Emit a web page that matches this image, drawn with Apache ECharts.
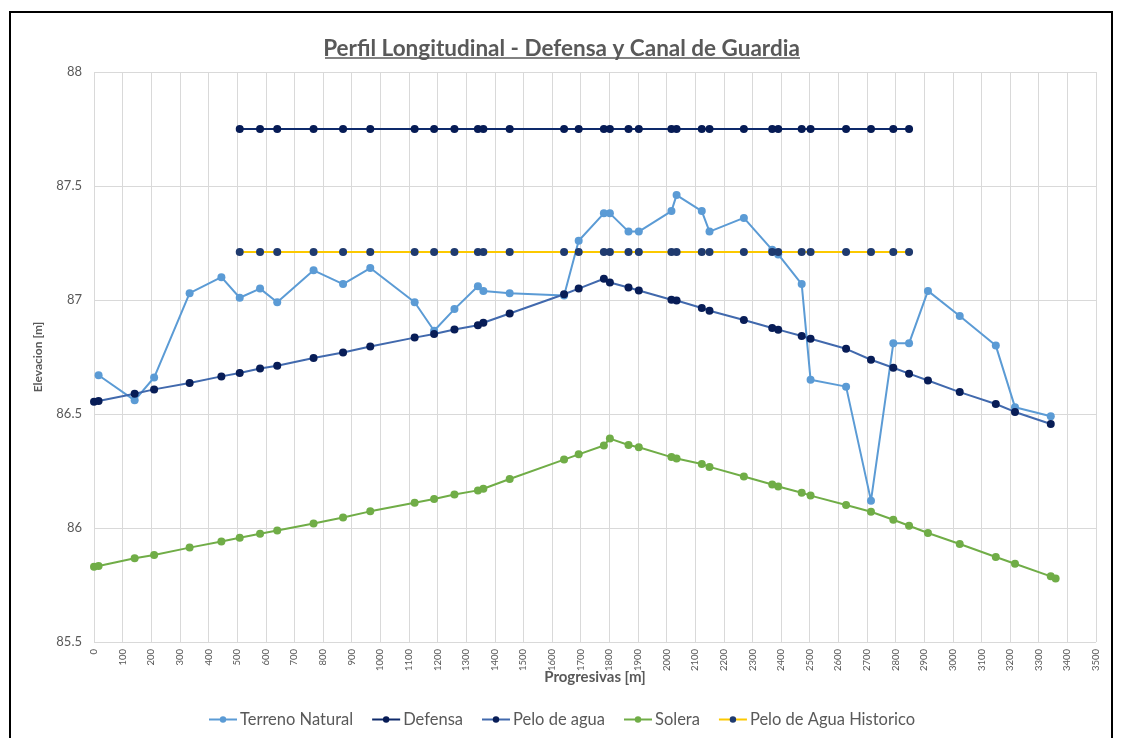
<!DOCTYPE html>
<html lang="es">
<head>
<meta charset="utf-8">
<title>Perfil Longitudinal</title>
<script src="https://cdn.jsdelivr.net/npm/echarts@6/dist/echarts.min.js"></script>
<style>
  html, body { margin: 0; padding: 0; background: #fff; }
  #frame { position: absolute; left: 9px; top: 11px; width: 1104px; height: 760px;
           border: 2px solid #000; box-sizing: border-box; }
  #main { position: absolute; left: 0; top: 0; width: 1123px; height: 738px; }
</style>
</head>
<body>
<div id="frame"></div>
<div id="main"></div>
<script type="text/javascript">
// progresivas [m] y elevaciones [m]
var progTerreno = [16, 142, 210, 334, 445, 509, 580, 640, 767, 870, 965, 1120, 1188, 1259, 1341, 1360, 1452,
    1642, 1693, 1781, 1802, 1867, 1903, 2017, 2035, 2123, 2150, 2270, 2369, 2390, 2472, 2503, 2627, 2714,
    2792, 2847, 2913, 3024, 3150, 3217, 3342];
var terreno = [86.67, 86.56, 86.66, 87.03, 87.10, 87.01, 87.05, 86.99, 87.13, 87.07, 87.14, 86.99, 86.865, 86.96,
    87.06, 87.04, 87.03, 87.02, 87.26, 87.38, 87.38, 87.30, 87.30, 87.39, 87.46, 87.39, 87.30, 87.36, 87.22,
    87.20, 87.07, 86.65, 86.62, 86.12, 86.81, 86.81, 87.04, 86.93, 86.80, 86.53, 86.49];

var progDefensa = [509, 580, 640, 767, 870, 965, 1120, 1188, 1259, 1341, 1360, 1452, 1642, 1693, 1781, 1802,
    1867, 1903, 2017, 2035, 2123, 2150, 2270, 2369, 2390, 2472, 2503, 2627, 2714, 2792, 2847];
var defensa = [87.75, 87.75, 87.75, 87.75, 87.75, 87.75, 87.75, 87.75, 87.75, 87.75, 87.75, 87.75, 87.75, 87.75,
    87.75, 87.75, 87.75, 87.75, 87.75, 87.75, 87.75, 87.75, 87.75, 87.75, 87.75, 87.75, 87.75, 87.75, 87.75,
    87.75, 87.75];
var historico = [87.21, 87.21, 87.21, 87.21, 87.21, 87.21, 87.21, 87.21, 87.21, 87.21, 87.21, 87.21, 87.21, 87.21,
    87.21, 87.21, 87.21, 87.21, 87.21, 87.21, 87.21, 87.21, 87.21, 87.21, 87.21, 87.21, 87.21, 87.21, 87.21,
    87.21, 87.21];

var progAgua = [0, 16, 142, 210, 334, 445, 509, 580, 640, 767, 870, 965, 1120, 1188, 1259, 1341, 1360, 1452,
    1642, 1693, 1781, 1802, 1867, 1903, 2017, 2035, 2123, 2150, 2270, 2369, 2390, 2472, 2503, 2627, 2714,
    2792, 2847, 2913, 3024, 3150, 3217, 3342];
var peloAgua = [86.554, 86.557, 86.589, 86.608, 86.636, 86.665, 86.680, 86.700, 86.712, 86.746, 86.770, 86.796,
    86.835, 86.851, 86.871, 86.889, 86.900, 86.941, 87.025, 87.050, 87.093, 87.077, 87.055, 87.042, 87.001,
    86.998, 86.965, 86.953, 86.912, 86.877, 86.870, 86.842, 86.830, 86.786, 86.738, 86.703, 86.677, 86.647,
    86.596, 86.544, 86.509, 86.456];

var progSolera = [0, 16, 142, 210, 334, 445, 509, 580, 640, 767, 870, 965, 1120, 1188, 1259, 1341, 1360, 1452,
    1642, 1693, 1781, 1802, 1867, 1903, 2017, 2035, 2123, 2150, 2270, 2369, 2390, 2472, 2503, 2627, 2714,
    2792, 2847, 2913, 3024, 3150, 3217, 3342, 3359];
var solera = [85.830, 85.833, 85.867, 85.882, 85.914, 85.941, 85.957, 85.975, 85.989, 86.020, 86.046, 86.073,
    86.111, 86.127, 86.147, 86.165, 86.172, 86.215, 86.300, 86.323, 86.362, 86.392, 86.364, 86.354, 86.311,
    86.305, 86.281, 86.268, 86.226, 86.191, 86.182, 86.155, 86.142, 86.101, 86.071, 86.036, 86.010, 85.978,
    85.930, 85.873, 85.843, 85.788, 85.779];

function pares(xs, ys) {
    var out = [];
    for (var i = 0; i < xs.length; i++) out.push([xs[i], ys[i]]);
    return out;
}

var gris = '#595959';
var fuente = 'Lato, "Liberation Sans", sans-serif';

var myChart = echarts.init(document.getElementById('main'));

var option = {
    animation: false,
    textStyle: { fontFamily: fuente },
    title: {
        text: 'Perfil Longitudinal - Defensa y Canal de Guardia',
        left: 'center',
        top: 32,
        textStyle: { color: gris, fontSize: 22.5, fontWeight: 'bold', fontFamily: fuente }
    },
    graphic: [{
        type: 'line',
        shape: { x1: 325, y1: 58, x2: 800, y2: 58 },
        style: { stroke: gris, lineWidth: 1.5 }
    }],
    legend: {
        bottom: 5,
        left: 'center',
        itemWidth: 28,
        itemHeight: 8,
        itemGap: 18,
        textStyle: { color: gris, fontSize: 16.5, padding: [0, 0, 0, -2] },
        data: ['Terreno Natural', 'Defensa', 'Pelo de agua', 'Solera', 'Pelo de Agua Historico']
    },
    grid: { left: 94, right: 27, top: 72, bottom: 96 },
    xAxis: {
        type: 'value',
        min: 0,
        max: 3500,
        interval: 100,
        name: 'Progresivas [m]',
        nameLocation: 'middle',
        nameGap: 28,
        nameMoveOverlap: false,
        nameTextStyle: { color: gris, fontSize: 15, fontWeight: 'bold' },
        axisLine: { show: false },
        axisTick: { show: false },
        axisLabel: { rotate: 90, color: gris, fontSize: 9.5, margin: 7,
            formatter: function (v) { return String(v); } },
        splitLine: { show: true, lineStyle: { color: '#d9d9d9', width: 1 } }
    },
    yAxis: {
        type: 'value',
        min: 85.5,
        max: 88,
        interval: 0.5,
        name: 'Elevacion [m]',
        nameLocation: 'middle',
        nameGap: 50,
        nameTextStyle: { color: gris, fontSize: 12, fontWeight: 'bold' },
        axisLine: { show: false },
        axisTick: { show: false },
        axisLabel: { color: gris, fontSize: 13, margin: 12 },
        splitLine: { lineStyle: { color: '#d9d9d9', width: 1 } }
    },
    series: [{
        name: 'Terreno Natural',
        type: 'line',
        data: pares(progTerreno, terreno),
        symbol: 'circle',
        symbolSize: 8,
        lineStyle: { color: '#5b9bd5', width: 2 },
        itemStyle: { color: '#5b9bd5' }
    }, {
        name: 'Defensa',
        type: 'line',
        data: pares(progDefensa, defensa),
        symbol: 'circle',
        symbolSize: 8,
        lineStyle: { color: '#0e2a6b', width: 2 },
        itemStyle: { color: '#061b55' }
    }, {
        name: 'Pelo de agua',
        type: 'line',
        data: pares(progAgua, peloAgua),
        symbol: 'circle',
        symbolSize: 8,
        lineStyle: { color: '#4169ad', width: 2 },
        itemStyle: { color: '#081d57' }
    }, {
        name: 'Solera',
        type: 'line',
        data: pares(progSolera, solera),
        symbol: 'circle',
        symbolSize: 8,
        lineStyle: { color: '#70ad47', width: 2 },
        itemStyle: { color: '#70ad47' }
    }, {
        name: 'Pelo de Agua Historico',
        type: 'line',
        data: pares(progDefensa, historico),
        symbol: 'circle',
        symbolSize: 8,
        lineStyle: { color: '#fcc900', width: 2 },
        itemStyle: { color: '#1f3a6e' }
    }]
};

myChart.setOption(option);
</script>
</body>
</html>
